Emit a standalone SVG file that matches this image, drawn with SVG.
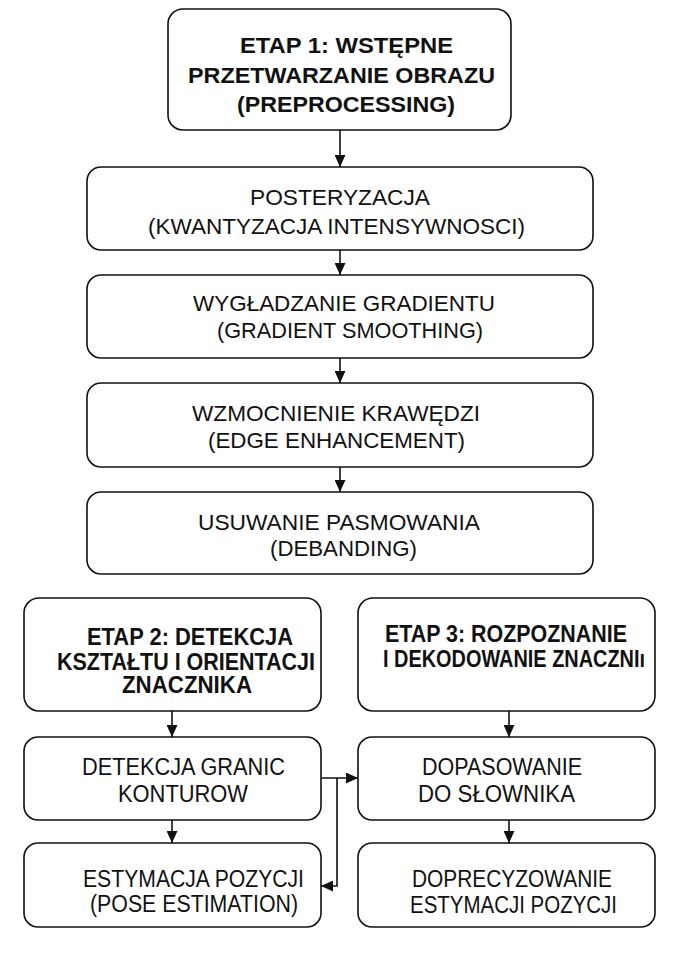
<svg xmlns="http://www.w3.org/2000/svg" width="679" height="954" viewBox="0 0 679 954">
<style>
.box{fill:#fff;stroke:#111;stroke-width:1.6}
.t{font-family:"Liberation Sans",Arial,sans-serif;font-size:22.5px;fill:#111}
.b{font-weight:bold;font-size:22px}
.s{font-size:23px}
.sb{font-weight:bold;font-size:24px}
.c{fill:none;stroke:#111;stroke-width:1.6}
</style>
<defs>
<marker id="ah" markerUnits="userSpaceOnUse" markerWidth="12" markerHeight="11" refX="12" refY="5.5" orient="auto">
<path d="M0,0 L12,5.5 L0,11 z" fill="#111"/>
</marker>
</defs>
<rect width="679" height="954" fill="#fff"/>
<g id="connectors">
<line class="c" x1="340" y1="130" x2="340" y2="167" marker-end="url(#ah)"/>
<line class="c" x1="340" y1="250" x2="340" y2="275" marker-end="url(#ah)"/>
<line class="c" x1="340" y1="358" x2="340" y2="383" marker-end="url(#ah)"/>
<line class="c" x1="340" y1="467" x2="340" y2="492" marker-end="url(#ah)"/>
<line class="c" x1="172" y1="711" x2="172" y2="737" marker-end="url(#ah)"/>
<line class="c" x1="172" y1="820" x2="172" y2="843" marker-end="url(#ah)"/>
<line class="c" x1="509" y1="711" x2="509" y2="737" marker-end="url(#ah)"/>
<line class="c" x1="509" y1="820" x2="509" y2="843" marker-end="url(#ah)"/>
<line class="c" x1="321" y1="778" x2="358" y2="778" marker-end="url(#ah)"/>
<polyline class="c" points="337,778 337,886 321,886" marker-end="url(#ah)"/>
</g>
<g id="etap1">
<rect class="box" x="168" y="9" width="343" height="121" rx="15"/>
<text class="t b" x="240" y="53" textLength="213" lengthAdjust="spacingAndGlyphs">ETAP 1: WSTĘPNE</text>
<text class="t b" x="188" y="83" textLength="307" lengthAdjust="spacingAndGlyphs">PRZETWARZANIE OBRAZU</text>
<text class="t b" x="237" y="112" textLength="218" lengthAdjust="spacingAndGlyphs">(PREPROCESSING)</text>
</g>
<g id="posteryzacja">
<rect class="box" x="87" y="167" width="506" height="83" rx="14"/>
<text class="t" x="250" y="205" textLength="180" lengthAdjust="spacingAndGlyphs">POSTERYZACJA</text>
<text class="t" x="148" y="234" textLength="377" lengthAdjust="spacingAndGlyphs">(KWANTYZACJA INTENSYWNOSCI)</text>
</g>
<g id="wygladzanie">
<rect class="box" x="87" y="275" width="506" height="83" rx="14"/>
<text class="t" x="193" y="311" textLength="302" lengthAdjust="spacingAndGlyphs">WYGŁADZANIE GRADIENTU</text>
<text class="t" x="217" y="338" textLength="266" lengthAdjust="spacingAndGlyphs">(GRADIENT SMOOTHING)</text>
</g>
<g id="wzmocnienie">
<rect class="box" x="87" y="383" width="506" height="84" rx="14"/>
<text class="t" x="192" y="421" textLength="288" lengthAdjust="spacingAndGlyphs">WZMOCNIENIE KRAWĘDZI</text>
<text class="t" x="208" y="448" textLength="257" lengthAdjust="spacingAndGlyphs">(EDGE ENHANCEMENT)</text>
</g>
<g id="usuwanie">
<rect class="box" x="87" y="492" width="506" height="82" rx="14"/>
<text class="t" x="198" y="530" textLength="282" lengthAdjust="spacingAndGlyphs">USUWANIE PASMOWANIA</text>
<text class="t" x="270" y="556" textLength="147" lengthAdjust="spacingAndGlyphs">(DEBANDING)</text>
</g>
<g id="etap2">
<rect class="box" x="24" y="598" width="297" height="113" rx="15"/>
<text class="t sb" x="87" y="645" textLength="206" lengthAdjust="spacingAndGlyphs">ETAP 2: DETEKCJA</text>
<text class="t sb" x="57" y="670" textLength="258" lengthAdjust="spacingAndGlyphs">KSZTAŁTU I ORIENTACJI</text>
<text class="t sb" x="122" y="693" textLength="130" lengthAdjust="spacingAndGlyphs">ZNACZNIKA</text>
</g>
<g id="etap3">
<rect class="box" x="358" y="598" width="297" height="113" rx="15"/>
<text class="t sb" x="385" y="642" textLength="242" lengthAdjust="spacingAndGlyphs">ETAP 3: ROZPOZNANIE</text>
<text class="t sb" x="383" y="667" textLength="262" lengthAdjust="spacingAndGlyphs">I DEKODOWANIE ZNACZNIı</text>
</g>
<g id="detekcja">
<rect class="box" x="24" y="737" width="297" height="83" rx="14"/>
<text class="t s" x="82" y="775" textLength="203" lengthAdjust="spacingAndGlyphs">DETEKCJA GRANIC</text>
<text class="t s" x="118" y="802" textLength="130" lengthAdjust="spacingAndGlyphs">KONTUROW</text>
</g>
<g id="estymacja">
<rect class="box" x="24" y="843" width="297" height="84" rx="14"/>
<text class="t s" x="83" y="887" textLength="221" lengthAdjust="spacingAndGlyphs">ESTYMACJA POZYCJI</text>
<text class="t s" x="90" y="912" textLength="208" lengthAdjust="spacingAndGlyphs">(POSE ESTIMATION)</text>
</g>
<g id="dopasowanie">
<rect class="box" x="358" y="737" width="297" height="83" rx="14"/>
<text class="t s" x="422" y="775" textLength="160" lengthAdjust="spacingAndGlyphs">DOPASOWANIE</text>
<text class="t s" x="418" y="802" textLength="157" lengthAdjust="spacingAndGlyphs">DO SŁOWNIKA</text>
</g>
<g id="doprecyzowanie">
<rect class="box" x="358" y="843" width="297" height="84" rx="14"/>
<text class="t s" x="412" y="887" textLength="200" lengthAdjust="spacingAndGlyphs">DOPRECYZOWANIE</text>
<text class="t s" x="410" y="913" textLength="207" lengthAdjust="spacingAndGlyphs">ESTYMACJI POZYCJI</text>
</g>
</svg>
